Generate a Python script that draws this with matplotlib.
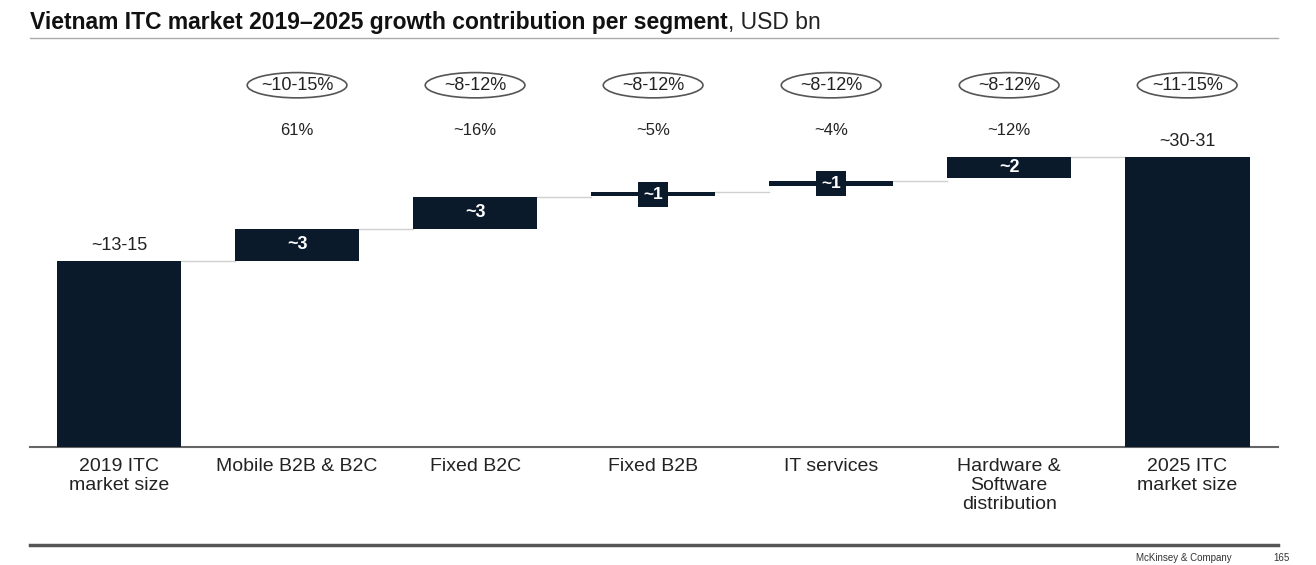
import matplotlib.pyplot as plt
from matplotlib.patches import Ellipse
from matplotlib.lines import Line2D

plt.rcParams['font.family'] = ['Liberation Sans', 'DejaVu Sans']

# data (drawn heights, in chart units)
categories = ['2019 ITC\nmarket size', 'Mobile B2B & B2C', 'Fixed B2C', 'Fixed B2B',
              'IT services', 'Hardware &\nSoftware\ndistribution', '2025 ITC\nmarket size']
bottoms = [0, 14.0, 16.4, 18.85, 19.6, 20.2, 0]
heights = [14.0, 2.4, 2.4, 0.3, 0.4, 1.6, 21.8]
bar_labels = ['~13-15', '~3', '~3', '~1', '~1', '~2', '~30-31']
cagr = [None, '~10-15%', '~8-12%', '~8-12%', '~8-12%', '~8-12%', '~11-15%']
share = [None, '61%', '~16%', '~5%', '~4%', '~12%', None]

navy = '#0a1a2a'

fig = plt.figure(figsize=(13.16, 5.65), dpi=100)
ax = fig.add_axes([30 / 1316, 118 / 565, 1248 / 1316, 407 / 565])
ax.set_xlim(-0.5, 6.51)
ax.set_ylim(0, 30.6)
for s in ['top', 'left', 'right']:
    ax.spines[s].set_visible(False)
ax.spines['bottom'].set_color('#666666')
ax.spines['bottom'].set_linewidth(1.5)
ax.set_xticks([])
ax.set_yticks([])

w = 0.70
x = list(range(len(categories)))
ax.bar(x, heights, width=w, bottom=bottoms, color=navy, zorder=3)

# connectors
for i in range(len(x) - 1):
    lvl = bottoms[i] + heights[i]
    ax.plot([x[i] + w / 2, x[i + 1] - w / 2], [lvl, lvl], color='#d0d0d0', lw=1, zorder=1)

for i in x:
    top = bottoms[i] + heights[i]
    if i in (0, len(x) - 1):
        ax.text(x[i], top + 0.5, bar_labels[i], ha='center', va='bottom', fontsize=13, color='#222222')
    elif heights[i] < 1:
        ax.text(x[i], bottoms[i] + heights[i] / 2, bar_labels[i], ha='center', va='center',
                fontsize=12.5, color='white', fontweight='bold', zorder=5,
                bbox=dict(boxstyle='square,pad=0.3', fc=navy, ec='none'))
    else:
        ax.text(x[i], bottoms[i] + heights[i] / 2, bar_labels[i], ha='center', va='center',
                fontsize=13, color='white', fontweight='bold', zorder=5)
    ax.text(x[i], -0.8, categories[i], ha='center', va='top', fontsize=14, color='#222222',
            linespacing=1.15)
    if cagr[i]:
        ax.add_patch(Ellipse((x[i], 27.2), 0.56, 1.9, fc='none', ec='#555555', lw=1.2, clip_on=False))
        ax.text(x[i], 27.2, cagr[i], ha='center', va='center', fontsize=13, color='#222222')
    if share[i]:
        ax.text(x[i], 23.8, share[i], ha='center', va='center', fontsize=12, color='#222222')

# title
t = fig.text(30 / 1316, 1 - 22 / 565, 'Vietnam ITC market 2019\u20132025 growth contribution per segment',
             fontsize=16.5, fontweight='bold', va='center', ha='left', color='#111111')
fig.canvas.draw()
bb = t.get_window_extent()
fig.text(bb.x1 / 1316, 1 - 22 / 565, ', USD bn', fontsize=16.5, va='center', ha='left', color='#222222')

fig.add_artist(Line2D([30 / 1316, 1278 / 1316], [1 - 38 / 565] * 2, color='#aaaaaa', lw=1))
fig.add_artist(Line2D([30 / 1316, 1278 / 1316], [1 - 545 / 565] * 2, color='#555555', lw=2.5))
fig.text(1232 / 1316, 1 - 558 / 565, 'McKinsey & Company', fontsize=7, ha='right', va='center', color='#333333')
fig.text(1290 / 1316, 1 - 558 / 565, '165', fontsize=7, ha='right', va='center', color='#333333')

fig.savefig('out.png', dpi=100)
